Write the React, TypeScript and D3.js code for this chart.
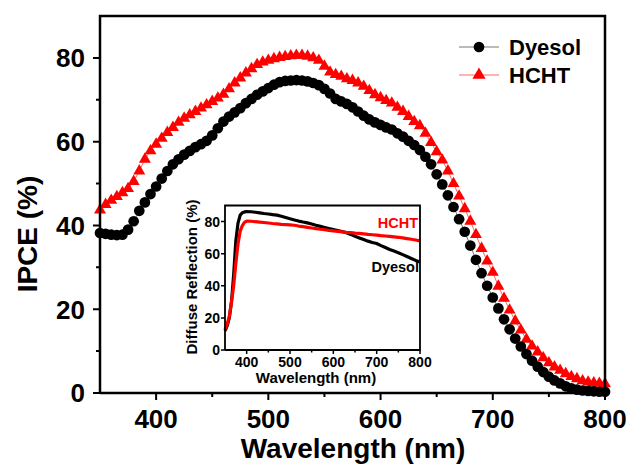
import React from "react";
import * as d3 from "d3";

// ---------- Main IPCE data ----------
const ipceWavelengths = [
  350, 355, 360, 365, 370, 375, 380, 385, 390, 395, 400, 405, 410, 415, 420, 425, 430, 435, 440, 445,
  450, 455, 460, 465, 470, 475, 480, 485, 490, 495, 500, 505, 510, 515, 520, 525, 530, 535, 540, 545,
  550, 555, 560, 565, 570, 575, 580, 585, 590, 595, 600, 605, 610, 615, 620, 625, 630, 635, 640, 645,
  650, 655, 660, 665, 670, 675, 680, 685, 690, 695, 700, 705, 710, 715, 720, 725, 730, 735, 740, 745,
  750, 755, 760, 765, 770, 775, 780, 785, 790, 795, 800,
];
const dyesolIpce = [
  38.2, 38, 37.8, 37.7, 37.8, 39, 41, 43.5, 45.5, 47.5, 49.3, 51.2, 53, 54.6, 55.8, 56.9, 57.8, 58.7, 59.4, 60.2,
  61.5, 63.2, 64.8, 66, 67, 68, 69.2, 70.2, 71.2, 72, 72.8, 73.6, 74.2, 74.5, 74.6, 74.7, 74.6, 74.4, 74, 73.5,
  72.6, 71.5, 70.2, 69.6, 69, 68.2, 67.2, 66.2, 65.3, 64.6, 64, 63.4, 62.9, 62, 61.2, 60.2, 59.2, 58, 56.4, 54.6,
  52.2, 49.8, 47.2, 44.4, 41.5, 38.5, 35.2, 31.8, 28.6, 25.6, 22.8, 20.2, 17.6, 15.2, 13, 11.1, 9.3, 7.7, 6.3, 5,
  3.9, 3, 2.3, 1.6, 1.1, 0.8, 0.6, 0.5, 0.4, 0.3, 0.3,
];
const hchtIpce = [
  43.7, 45, 46, 46.9, 47.8, 48.8, 50.5, 53, 55.8, 57.8, 59.4, 60.8, 62.2, 63.4, 64.6, 65.6, 66.4, 67.2, 68, 68.8,
  69.6, 70.4, 71.3, 72.6, 74, 75.2, 76.4, 77.4, 78.4, 79, 79.4, 79.8, 80.1, 80.3, 80.5, 80.6, 80.6, 80.4, 80, 79.4,
  78, 76.6, 76, 75.6, 75, 74.6, 74, 73.2, 72.2, 71.2, 70.5, 69.8, 69.2, 68.2, 67.2, 66, 64.8, 63.8, 62, 59.8,
  57.6, 55.6, 53, 50, 47, 44, 41, 37.8, 34.5, 31.5, 28.8, 25.5, 22.6, 19.8, 17.2, 15, 12.8, 11.2, 9.8, 8.4,
  7.2, 6.2, 5.4, 4.6, 3.9, 3.4, 2.9, 2.6, 2.4, 2.3, 2.2,
];
const mainXTicks = [400, 500, 600, 700, 800];
const mainXMinor = [450, 550, 650, 750];
const mainYTicks = [0, 20, 40, 60, 80];
const mainYMinor = [10, 30, 50, 70];

// ---------- Inset diffuse reflection data ----------
const reflWavelengths = [
  350, 355, 360, 365, 370, 375, 380, 385, 390, 395, 400, 410, 420, 430, 440, 450, 460, 470, 480, 490,
  500, 510, 520, 530, 540, 550, 560, 570, 580, 590, 600, 610, 620, 630, 640, 650, 660, 670, 680, 690,
  700, 710, 720, 730, 740, 750, 760, 770, 780, 790, 800,
];
const dyesolRefl = [
  12, 15, 20, 30, 47, 68, 79, 84, 85.5, 86, 86.2, 86.1, 85.8, 85.4, 85, 84.7, 84.3, 84, 83.3, 82.5,
  81.7, 81, 80.3, 79.7, 79.2, 78.5, 77.7, 77, 76.3, 75.6, 75, 74.4, 73.8, 73, 72, 70.8, 69.8, 68.8, 67.8, 67,
  66.3, 65, 63.8, 62.6, 61.6, 60.6, 59.4, 58.2, 57, 55.8, 54.8,
];
const hchtRefl = [
  13, 16, 21, 30, 40, 54, 66, 74, 77.5, 79.5, 80.3, 80.2, 79.9, 79.7, 79.4, 79.1, 78.8, 78.6, 78.3, 78.1,
  77.9, 77.7, 77.2, 76.8, 76.4, 76, 75.6, 75.2, 74.9, 74.5, 74.2, 73.9, 73.6, 73.3, 73.1, 72.8, 72.6, 72.3, 72, 71.8,
  71.5, 71.2, 71, 70.8, 70.5, 70.2, 69.8, 69.4, 69, 68.5, 68,
];
const insetXTicks = [400, 500, 600, 700, 800];
const insetXMinor = [450, 550, 650, 750];
const insetYTicks = [0, 20, 40, 60, 80];

const FONT = "'Liberation Sans', Arial, Helvetica, sans-serif";

export default function App() {
  const W = 632, H = 467;
  const x = d3.scaleLinear().domain([350, 800]).range([100, 605]);
  const y = d3.scaleLinear().domain([0, 90]).range([393, 16]);
  const ix = d3.scaleLinear().domain([350, 800]).range([225, 420]);
  const iy = d3.scaleLinear().domain([0, 90]).range([350, 205.5]);

  const line = d3.line<number>().x((_, i) => x(ipceWavelengths[i])).y((d) => y(d));
  const iline = d3.line<number>().x((_, i) => ix(reflWavelengths[i])).y((d) => iy(d));
  const tri = d3.symbol().type(d3.symbolTriangle).size(62)() as string;
  const triLeg = d3.symbol().type(d3.symbolTriangle).size(75)() as string;
  const circ = d3.symbol().type(d3.symbolCircle).size(90)() as string;

  const [x0, x1] = x.range();
  const [y0, y1] = y.range();
  const [ix0, ix1] = ix.range();
  const [iy0, iy1] = iy.range();

  // frames as closed outlines through the corners, drawn slightly inset via the data scales
  const mainFrame = d3.line()([[x0, y0], [x1, y0], [x1, y1], [x0, y1], [x0, y0]]) as string;
  const insetFrame = d3.line()([[ix0, iy0], [ix1, iy0], [ix1, iy1], [ix0, iy1], [ix0, iy0]]) as string;
  const mainTicks =
    mainXTicks.map((t) => `M${x(t)},${y0}v7`).join("") +
    mainXMinor.map((t) => `M${x(t)},${y0}v4`).join("") +
    mainYTicks.map((t) => `M${x0},${y(t)}h-7`).join("") +
    mainYMinor.map((t) => `M${x0},${y(t)}h-4`).join("");
  const insetTicks =
    insetXTicks.map((t) => `M${ix(t)},${iy0}v4`).join("") +
    insetXMinor.map((t) => `M${ix(t)},${iy0}v2.5`).join("") +
    insetYTicks.map((t) => `M${ix0},${iy(t)}h-4`).join("");

  return (
    <svg width={W} height={H} viewBox={`0 0 ${W} ${H}`} style={{ position: "absolute", left: 0, top: 0, display: "block" }} fontFamily={FONT}>
      <rect x={0} y={0} width={W} height={H} fill="#ffffff" />

      <path d={line(hchtIpce) as string} fill="none" stroke="#ff6666" strokeWidth={1} />
      {hchtIpce.map((v, i) => (
        <path key={"h" + i} d={tri} transform={`translate(${x(ipceWavelengths[i])},${y(v)})`} fill="#ff0000" />
      ))}
      <path d={line(dyesolIpce) as string} fill="none" stroke="#777777" strokeWidth={1} />
      {dyesolIpce.map((v, i) => (
        <path key={"d" + i} d={circ} transform={`translate(${x(ipceWavelengths[i])},${y(v)})`} fill="#000000" />
      ))}

      <path d={mainFrame} fill="none" stroke="#000000" strokeWidth={2.5} strokeLinejoin="miter" />
      <path d={mainTicks} fill="none" stroke="#000000" strokeWidth={2} />
      {mainXTicks.map((t) => (
        <text key={"xt" + t} x={x(t)} y={428} textAnchor="middle" fontSize={26} fontWeight="bold">{t}</text>
      ))}
      {mainYTicks.map((t) => (
        <text key={"yt" + t} x={85} y={y(t)} dy="0.36em" textAnchor="end" fontSize={26} fontWeight="bold">{t}</text>
      ))}
      <text x={353} y={458} textAnchor="middle" fontSize={28} fontWeight="bold">Wavelength (nm)</text>
      <text transform="translate(37,234) rotate(-90)" textAnchor="middle" fontSize={28} fontWeight="bold">IPCE (%)</text>

      <path d="M459,47H499" stroke="#777777" strokeWidth={1} />
      <path d={circ} transform="translate(479,47)" fill="#000000" />
      <text x={509} y={55} fontSize={22} fontWeight="bold">Dyesol</text>
      <path d="M459,75H499" stroke="#ff6666" strokeWidth={1} />
      <path d={triLeg} transform="translate(479,75)" fill="#ff0000" />
      <text x={509} y={83} fontSize={22} fontWeight="bold">HCHT</text>

      <rect x={ix0} y={iy1} width={ix1 - ix0} height={iy0 - iy1} fill="#ffffff" />
      <path d={iline(dyesolRefl) as string} fill="none" stroke="#000000" strokeWidth={3.2} strokeLinejoin="round" />
      <path d={iline(hchtRefl) as string} fill="none" stroke="#ff0000" strokeWidth={3.2} strokeLinejoin="round" />
      <path d={insetFrame} fill="none" stroke="#000000" strokeWidth={1.8} />
      <path d={insetTicks} fill="none" stroke="#000000" strokeWidth={1.5} />
      {insetXTicks.map((t) => (
        <text key={"ixt" + t} x={ix(t)} y={367} textAnchor="middle" fontSize={14} fontWeight="bold">{t}</text>
      ))}
      {insetYTicks.map((t) => (
        <text key={"iyt" + t} x={220} y={iy(t)} dy="0.36em" textAnchor="end" fontSize={14} fontWeight="bold">{t}</text>
      ))}
      <text x={316} y={383} textAnchor="middle" fontSize={15} fontWeight="bold">Wavelength (nm)</text>
      <text transform="translate(197,277) rotate(-90)" textAnchor="middle" fontSize={15} fontWeight="bold">Diffuse Reflection (%)</text>
      <text x={418} y={228} textAnchor="end" fontSize={14.5} fontWeight="bold" fill="#ff0000">HCHT</text>
      <text x={419} y={272} textAnchor="end" fontSize={14.5} fontWeight="bold" fill="#000000">Dyesol</text>
    </svg>
  );
}
